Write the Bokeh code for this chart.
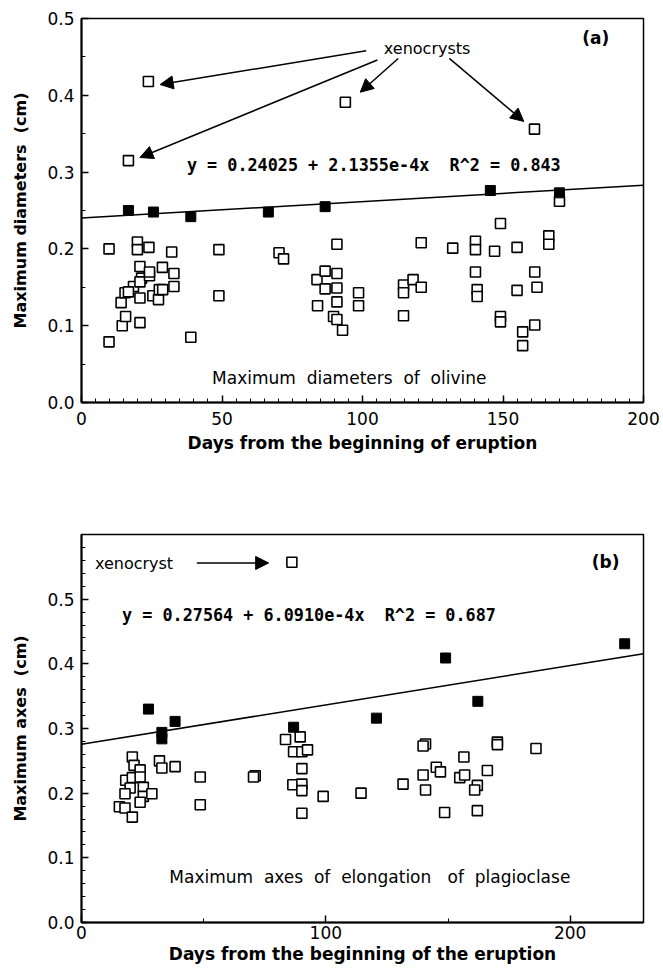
from bokeh.plotting import figure
from bokeh.layouts import column
from bokeh.models import (Range1d, SingleIntervalTicker, PrintfTickFormatter,
                          Arrow, NormalHead, ColumnDataSource)
from bokeh.core.properties import value
from bokeh.embed import file_html
from bokeh.resources import INLINE

# ---------------- Panel (a): olivine ----------------
olv_open_day = [9.8, 9.8, 14.1, 15.5, 14.5, 15.7, 18.5, 16.7, 19.9, 19.9, 20.8, 20.8,
                20.8, 21.4, 20.8, 24.2, 24.2, 24.0, 25.4, 27.4, 27.7, 28.9, 28.8, 32.1,
                32.9, 32.9, 38.9, 48.9, 48.9, 70.3, 71.9, 83.8, 86.7, 86.7, 84.0, 90.9,
                90.9, 90.9, 90.9, 89.7, 90.9, 92.9, 98.6, 98.6, 120.9, 114.6, 114.6,
                118.0, 120.9, 114.6, 132.1, 140.2, 140.2, 147.0, 149.1, 155.0, 166.3,
                166.3, 170.1, 140.2, 140.8, 140.8, 161.3, 162.1, 155.0, 149.1, 149.1,
                161.3, 157.0, 157.0]
olv_open_val = [0.200, 0.079, 0.130, 0.143, 0.100, 0.112, 0.151, 0.144, 0.209, 0.199,
                0.104, 0.136, 0.177, 0.162, 0.157, 0.165, 0.170, 0.202, 0.139, 0.134,
                0.147, 0.147, 0.176, 0.196, 0.168, 0.151, 0.085, 0.199, 0.139, 0.195,
                0.187, 0.160, 0.171, 0.148, 0.126, 0.206, 0.168, 0.149, 0.131, 0.112,
                0.108, 0.094, 0.143, 0.126, 0.208, 0.153, 0.143, 0.160, 0.150, 0.113,
                0.201, 0.210, 0.199, 0.197, 0.233, 0.202, 0.217, 0.206, 0.262, 0.170,
                0.147, 0.138, 0.170, 0.150, 0.146, 0.112, 0.105, 0.101, 0.092, 0.074]
olv_xeno_day = [23.8, 16.7, 93.9, 161.2]
olv_xeno_val = [0.418, 0.315, 0.391, 0.356]
olv_fill_day = [16.7, 25.6, 38.9, 66.5, 86.7, 145.5, 170.1]
olv_fill_val = [0.250, 0.248, 0.242, 0.248, 0.255, 0.276, 0.273]
olv_intercept, olv_slope = 0.24025, 2.1355e-4

# ---------------- Panel (b): plagioclase ----------------
plg_open_day = [20.8, 21.5, 24.0, 18.1, 20.8, 24.0, 19.9, 17.8, 25.3, 25.3, 28.8, 24.0,
                15.5, 17.8, 20.8, 31.9, 32.9, 38.3, 48.6, 48.6, 71.1, 70.4, 83.5, 89.5,
                86.8, 90.2, 92.5, 90.2, 86.5, 90.2, 90.2, 90.2, 98.9, 114.4, 131.6,
                140.8, 139.8, 139.8, 140.8, 145.2, 146.9, 156.5, 154.8, 156.8, 148.6,
                166.1, 162.0, 160.9, 162.0, 170.2, 170.2, 186.0]
plg_open_val = [0.256, 0.243, 0.236, 0.220, 0.224, 0.225, 0.208, 0.199, 0.209, 0.195,
                0.199, 0.186, 0.179, 0.177, 0.163, 0.250, 0.239, 0.241, 0.225, 0.182,
                0.227, 0.225, 0.283, 0.287, 0.264, 0.264, 0.267, 0.238, 0.213, 0.214,
                0.204, 0.169, 0.195, 0.200, 0.214, 0.276, 0.273, 0.228, 0.205, 0.240,
                0.233, 0.256, 0.224, 0.228, 0.170, 0.235, 0.212, 0.205, 0.173, 0.279,
                0.275, 0.269]
plg_xeno_day = [86.1]
plg_xeno_val = [0.557]
plg_fill_day = [27.4, 32.9, 32.9, 38.3, 86.8, 120.7, 149.0, 162.2, 222.3]
plg_fill_val = [0.330, 0.294, 0.284, 0.311, 0.302, 0.316, 0.409, 0.342, 0.431]
plg_intercept, plg_slope = 0.27564, 6.0910e-4

TICK_FONT = "DejaVu Sans"
LABEL_FONT = "DejaVu Sans"
SP = "\u00a0"  # non-breaking space for the wide word gaps


def style(p, xint, xminor, yint, yminor):
    p.xaxis.ticker = SingleIntervalTicker(interval=xint, num_minor_ticks=xminor)
    p.yaxis.ticker = SingleIntervalTicker(interval=yint, num_minor_ticks=yminor)
    p.yaxis.formatter = PrintfTickFormatter(format="%.1f")
    p.xgrid.visible = False
    p.ygrid.visible = False
    p.outline_line_color = "black"
    p.outline_line_width = 1.5
    for ax in (p.xaxis[0], p.yaxis[0]):
        ax.axis_line_width = 2
        ax.axis_line_color = "black"
        ax.major_tick_in = 7
        ax.major_tick_out = 0
        ax.minor_tick_in = 4
        ax.minor_tick_out = 0
        ax.major_tick_line_width = 1.5
        ax.major_label_text_font = TICK_FONT
        ax.major_label_text_font_size = "17px"
        ax.major_label_text_color = "black"
        ax.axis_label_text_font = LABEL_FONT
        ax.axis_label_text_font_style = "bold"
        ax.axis_label_text_color = "black"
    p.xaxis.axis_label_text_font_size = "17px"
    p.yaxis.axis_label_text_font_size = "16px"
    p.yaxis.major_label_standoff = 7
    p.yaxis.axis_label_standoff = 14


def squares(p, xs, ys, filled):
    src = ColumnDataSource(dict(x=xs, y=ys))
    if filled:
        p.scatter("x", "y", source=src, marker="square", size=10,
                  fill_color="black", line_color="black", line_width=1)
    else:
        p.scatter("x", "y", source=src, marker="square", size=10,
                  fill_color="white", line_color="black", line_width=1.6)


def txt(p, x, y, s, size="17px", font="DejaVu Sans", style_="normal", align="left"):
    p.text(x=[x], y=[y], text=[s], text_font=value(font), text_font_size=size,
           text_font_style=style_, text_align=align, text_baseline="middle",
           text_color="black")


def arrow(p, x0, y0, x1, y1):
    p.add_layout(Arrow(end=NormalHead(size=13, fill_color="black", line_color="black"),
                       x_start=x0, y_start=y0, x_end=x1, y_end=y1,
                       line_width=1.5, line_color="black"))


# ---------- figure (a) ----------
p1 = figure(width=663, height=470, output_backend="svg", toolbar_location=None,
            x_range=Range1d(0, 200), y_range=Range1d(0, 0.5),
            min_border_left=81, min_border_right=20, min_border_top=18,
            min_border_bottom=68)
style(p1, 50, 10, 0.1, 2)
p1.xaxis.axis_label = "Days from the beginning of eruption"
p1.yaxis.axis_label = "Maximum diameters" + SP + SP + "(cm)"
p1.xaxis.major_label_standoff = 9
p1.xaxis.axis_label_standoff = 5

p1.line([0, 200], [olv_intercept, olv_intercept + olv_slope * 200],
        line_color="black", line_width=1.5)
squares(p1, olv_open_day, olv_open_val, False)
squares(p1, olv_xeno_day, olv_xeno_val, False)
squares(p1, olv_fill_day, olv_fill_val, True)

txt(p1, 123, 0.461, "xenocrysts", size="16px", align="center")
txt(p1, 183, 0.474, "(a)", size="17px", style_="bold", align="center")
txt(p1, 37.5, 0.309, "y = 0.24025 + 2.1355e-4x" + SP + SP + "R^2 = 0.843",
    size="16.8px", font="DejaVu Sans Mono", style_="bold")
txt(p1, 95.3, 0.032, "Maximum" + SP + SP + "diameters" + SP + SP + "of" + SP + SP + "olivine",
    size="17px", align="center")

arrow(p1, 101.3, 0.458, 28.0, 0.414)
arrow(p1, 105.3, 0.446, 20.8, 0.319)
arrow(p1, 112.7, 0.448, 99.2, 0.404)
arrow(p1, 130.9, 0.448, 157.4, 0.366)

# ---------- figure (b) ----------
p2 = figure(width=663, height=502, output_backend="svg", toolbar_location=None,
            x_range=Range1d(0, 230), y_range=Range1d(0, 0.6),
            min_border_left=81, min_border_right=20, min_border_top=64,
            min_border_bottom=50)
style(p2, 100, 2, 0.1, 5)
p2.xaxis.axis_label = "Days from the beginning of the eruption"
p2.yaxis.axis_label = "Maximum axes" + SP + SP + "(cm)"
p2.xaxis.major_label_standoff = 3
p2.xaxis.axis_label_standoff = 2

p2.line([0, 230], [plg_intercept, plg_intercept + plg_slope * 230],
        line_color="black", line_width=1.5)
squares(p2, plg_open_day, plg_open_val, False)
squares(p2, plg_xeno_day, plg_xeno_val, False)
squares(p2, plg_fill_day, plg_fill_val, True)

txt(p2, 5.5, 0.555, "xenocryst", size="16px")
arrow(p2, 47.2, 0.556, 76.6, 0.556)
txt(p2, 214.5, 0.558, "(b)", size="17px", style_="bold", align="center")
txt(p2, 16.6, 0.476, "y = 0.27564 + 6.0910e-4x" + SP + SP + "R^2 = 0.687",
    size="16.8px", font="DejaVu Sans Mono", style_="bold")
txt(p2, 118, 0.070,
    "Maximum" + SP + SP + "axes" + SP + SP + "of" + SP + SP + "elongation" + SP + SP + SP + "of" + SP + SP + "plagioclase",
    size="17px", align="center")

layout = column(p1, p2, spacing=0)
open("out.html", "w").write(file_html(layout, INLINE))
